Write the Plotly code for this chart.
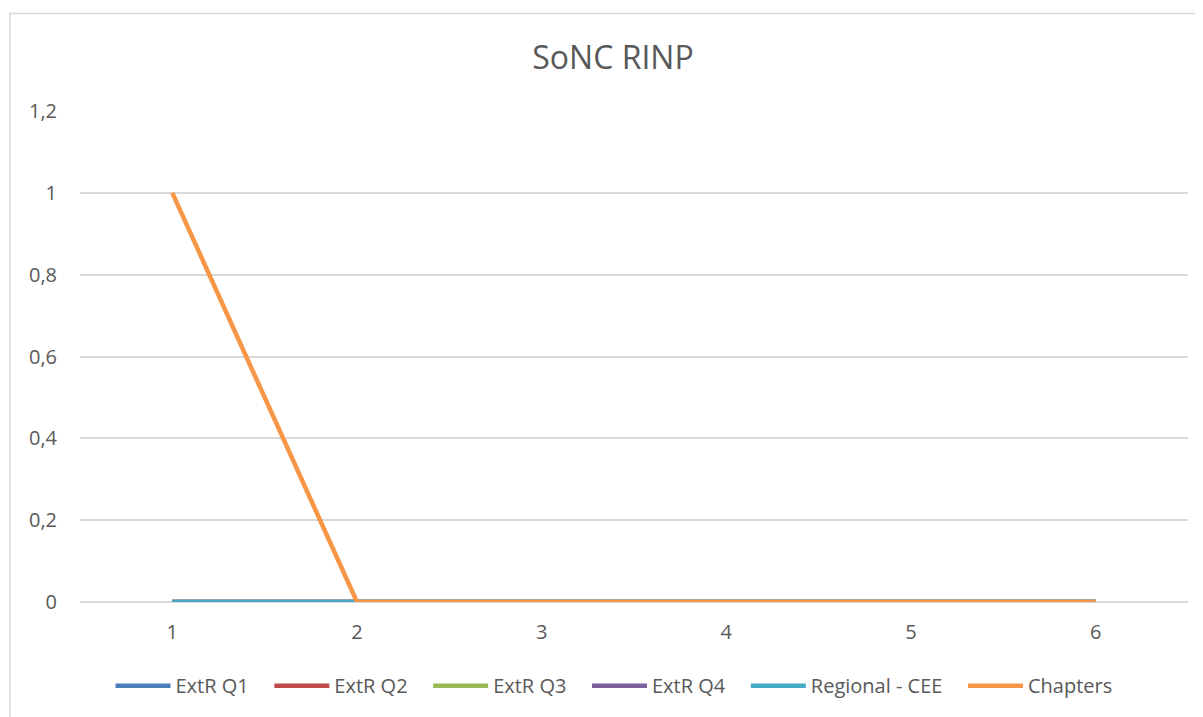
import plotly.graph_objects as go

# category axis and series values
categories = ["1", "2", "3", "4", "5", "6"]
extr_q1 = [0, 0, 0, 0, 0, 0]
extr_q2 = [0, 0, 0, 0, 0, 0]
extr_q3 = [0, 0, 0, 0, 0, 0]
extr_q4 = [0, 0, 0, 0, 0, 0]
regional_cee = [0, 0, 0, 0, 0, 0]
chapters = [1, 0, 0, 0, 0, 0]

series = [
    ("ExtR Q1", extr_q1, "#4a7ebb"),
    ("ExtR Q2", extr_q2, "#be4b48"),
    ("ExtR Q3", extr_q3, "#98b954"),
    ("ExtR Q4", extr_q4, "#7d5fa0"),
    ("Regional - CEE", regional_cee, "#46aac5"),
    ("Chapters", chapters, "#f79646"),
]

FONT = "Open Sans, Liberation Sans, sans-serif"
PAD = "\u00a0" * 3  # extra gap between legend entries

fig = go.Figure()
for name, vals, color in series:
    fig.add_trace(go.Scatter(
        x=categories, y=vals,
        mode="lines",
        name=name + PAD,
        line=dict(color=color, width=4.5),
    ))

# page body has an 8px margin, so the figure sits at (8, 8)
OFF = 8
W, H = 1203 - OFF, 717 - OFF
ml, mr, mt, mb = 80 - OFF, 15, 111 - OFF, 115 - OFF
pw, ph = W - ml - mr, H - mt - mb

# light chart border like the Excel chart frame
fig.add_shape(
    type="rect", xref="paper", yref="paper",
    x0=(10 - 80) / pw, x1=1 + 40 / pw,
    y0=-(mb + 30) / ph, y1=1 + (111 - 12) / ph,
    line=dict(color="#d9d9d9", width=1.5), fillcolor="rgba(0,0,0,0)",
    layer="below",
)

fig.update_layout(
    width=W, height=H,
    margin=dict(l=ml, r=mr, t=mt, b=mb),
    paper_bgcolor="white", plot_bgcolor="white",
    separators=", ",
    font=dict(family=FONT, color="#595959", size=20),
    title=dict(text="SoNC RINP", x=(613 - OFF) / W, xanchor="center",
               y=1 - (58 - OFF) / H, yanchor="middle",
               font=dict(size=32, color="#595959")),
    showlegend=True,
    legend=dict(orientation="h", x=(622 - 80) / pw, xanchor="center",
                y=-(687 - 602) / ph, yanchor="middle",
                font=dict(size=20, color="#595959"), itemwidth=55, tracegroupgap=0),
)
fig.update_xaxes(
    type="category", range=[-0.5, 5.5],
    showgrid=False, showline=False, zeroline=False,
    ticks="", ticklabelstandoff=16,
    tickfont=dict(size=20, color="#595959"),
)
fig.update_yaxes(
    range=[0, 1.2], dtick=0.2,
    showgrid=True, gridcolor="#d9d9d9", gridwidth=1.5,
    zeroline=True, zerolinecolor="#d9d9d9", zerolinewidth=1.5,
    showline=False, ticks="", ticklabelstandoff=22,
    tickfont=dict(size=20, color="#595959"),
)

fig.write_html("out.html")
